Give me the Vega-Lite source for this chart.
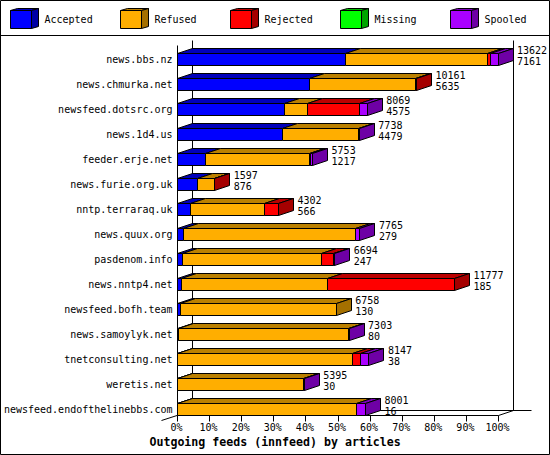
{
"$schema":"https://vega.github.io/schema/vega-lite/v6.json",
"width":321,"height":370,
"autosize":{"type":"none"},
"padding":{"left":177,"top":45,"right":52,"bottom":40},
"background":"white",
"config":{"view":{"stroke":null},"text":{"font":"DejaVu Sans Mono","fontSize":10,"color":"black"}},
"params":[{"name":"k","expr":"13622/321"}],
"datasets":{
"hosts":[
{"host":"news.bbs.nz","Accepted":7161,"Refused":6010,"Rejected":144,"Missing":0,"Spooled":307},
{"host":"news.chmurka.net","Accepted":5635,"Refused":4500,"Rejected":26,"Missing":0,"Spooled":0},
{"host":"newsfeed.dotsrc.org","Accepted":4575,"Refused":976,"Rejected":2207,"Missing":0,"Spooled":311},
{"host":"news.1d4.us","Accepted":4479,"Refused":3229,"Rejected":0,"Missing":0,"Spooled":30},
{"host":"feeder.erje.net","Accepted":1217,"Refused":4406,"Rejected":60,"Missing":0,"Spooled":70},
{"host":"news.furie.org.uk","Accepted":876,"Refused":701,"Rejected":20,"Missing":0,"Spooled":0},
{"host":"nntp.terraraq.uk","Accepted":566,"Refused":3139,"Rejected":597,"Missing":0,"Spooled":0},
{"host":"news.quux.org","Accepted":279,"Refused":7275,"Rejected":0,"Missing":0,"Spooled":211},
{"host":"pasdenom.info","Accepted":247,"Refused":5894,"Rejected":509,"Missing":0,"Spooled":44},
{"host":"news.nntp4.net","Accepted":185,"Refused":6202,"Rejected":5390,"Missing":0,"Spooled":0},
{"host":"newsfeed.bofh.team","Accepted":130,"Refused":6628,"Rejected":0,"Missing":0,"Spooled":0},
{"host":"news.samoylyk.net","Accepted":80,"Refused":7193,"Rejected":0,"Missing":0,"Spooled":30},
{"host":"tnetconsulting.net","Accepted":38,"Refused":7402,"Rejected":339,"Missing":0,"Spooled":368},
{"host":"weretis.net","Accepted":30,"Refused":5345,"Rejected":0,"Missing":0,"Spooled":20},
{"host":"newsfeed.endofthelinebbs.com","Accepted":16,"Refused":7594,"Rejected":0,"Missing":0,"Spooled":391}
],
"statuses":[{"key":"Accepted"},{"key":"Refused"},{"key":"Rejected"},{"key":"Missing"},{"key":"Spooled"}]
},
"encoding":{
"x":{"field":"xa","type":"quantitative","title":"Outgoing feeds (innfeed) by articles",
"scale":{"domain":[0,13622],"range":[0,321],"nice":false,"zero":false},
"axis":{"values":[0,1362.2,2724.4,4086.6,5448.8,6811,8173.2,9535.4,10897.6,12259.8,13622],"labelExpr":"round(datum.value/13622*100)+'%'","grid":false,"domainColor":"black","tickColor":"black","tickSize":6,"labelFont":"DejaVu Sans Mono","labelFontSize":10,"labelColor":"black","labelPadding":1,"labelOffset":-1,"labelOverlap":false,"labelFlush":false,"titleFont":"DejaVu Sans Mono","titleFontSize":11.6,"titleFontWeight":"bold","titleColor":"black","titleX":97.6,"titleY":27,"titleBaseline":"middle","titleAnchor":"middle"}},
"y":{"field":"ya","type":"quantitative",
"scale":{"domain":[-0.58,14.22],"range":[0,370],"nice":false,"zero":false},
"axis":{"title":null,"grid":false,"ticks":false,"labels":false,"domain":true,"domainColor":"black"}},
"fill":{"field":"shade","type":"nominal","legend":null,
"scale":{"domain":["Accepted","Refused","Rejected","Missing","Spooled","Accepted_t","Refused_t","Rejected_t","Missing_t","Spooled_t","Accepted_s","Refused_s","Rejected_s","Missing_s","Spooled_s"],
"range":["#0000FF","#FFAE00","#FF0000","#00FF00","#AA00FF","#0000BB","#BB8000","#BB0000","#00BB00","#7D00BB","#0000A5","#A57000","#A50000","#00A500","#6E00A5"]}}
},
"layer":[
{"data":{"values":[{}]},
 "transform":[{"calculate":"-176.5*k","as":"xa"},{"calculate":"372.5*k","as":"xb"},{"calculate":"-2.36","as":"ya"},{"calculate":"15.8","as":"yb"}],
 "mark":{"type":"rect","stroke":"black","strokeWidth":1},
 "encoding":{"x2":{"field":"xb"},"y2":{"field":"yb"},"fill":{"value":null}}},
{"data":{"values":[{"xp":-176.5,"xq":372.5,"yp":-0.96,"yq":-0.96},{"xp":15.5,"xq":15.5,"yp":-0.76,"yq":14.04},{"xp":336.5,"xq":336.5,"yp":-0.76,"yq":14.04},{"xp":15.5,"xq":354.5,"yp":14.04,"yq":14.04},{"xp":-15.5,"xq":15.5,"yp":14.44,"yq":14.04},{"xp":321.5,"xq":336.5,"yp":14.24,"yq":14.04}]},
 "transform":[{"calculate":"datum.xp*k","as":"xa"},{"calculate":"datum.xq*k","as":"xb"},{"calculate":"datum.yp","as":"ya"},{"calculate":"datum.yq","as":"yb"}],
 "mark":{"type":"rule","color":"black","strokeWidth":1},
 "encoding":{"x2":{"field":"xb"},"y2":{"field":"yb"},"fill":{"value":null}}},
{"data":{"name":"statuses"},
 "transform":[{"window":[{"op":"row_number","as":"i"}]},{"calculate":"(-166.5+110*(datum.i-1))*k","as":"lx0"},{"calculate":"datum.lx0+21*k","as":"lx1"}],
 "layer":[
  {"transform":[{"calculate":"[0,1]","as":"d"},{"flatten":["d"]},{"calculate":"datum.lx0+datum.d*7*k","as":"xa"},{"calculate":"datum.lx1+datum.d*7*k","as":"xb"},{"calculate":"-1.96-datum.d*0.08","as":"ya"},{"calculate":"datum.key+'_t'","as":"shade"}],
   "mark":{"type":"area","orient":"horizontal","stroke":"black","strokeWidth":1},
   "encoding":{"x2":{"field":"xb"},"detail":{"field":"key"}}},
  {"transform":[{"calculate":"[0,1]","as":"d"},{"flatten":["d"]},{"calculate":"datum.lx1+datum.d*7*k","as":"xa"},{"calculate":"-1.96-datum.d*0.08","as":"ya"},{"calculate":"-1.24-datum.d*0.08","as":"yb"},{"calculate":"datum.key+'_s'","as":"shade"}],
   "mark":{"type":"area","orient":"vertical","stroke":"black","strokeWidth":1},
   "encoding":{"y2":{"field":"yb"},"detail":{"field":"key"}}},
  {"transform":[{"calculate":"datum.lx0","as":"xa"},{"calculate":"datum.lx1","as":"xb"},{"calculate":"-1.96","as":"ya"},{"calculate":"-1.24","as":"yb"},{"calculate":"datum.key","as":"shade"}],
   "mark":{"type":"rect","stroke":"black","strokeWidth":1},
   "encoding":{"x2":{"field":"xb"},"y2":{"field":"yb"}}},
  {"transform":[{"calculate":"datum.lx0+34*k","as":"xa"},{"calculate":"-1.58","as":"ya"}],
   "mark":{"type":"text","align":"left","baseline":"middle"},
   "encoding":{"text":{"field":"key"},"fill":{"value":"black"}}}
 ]},
{"data":{"name":"hosts"},
 "transform":[
  {"window":[{"op":"row_number","as":"n"}]},
  {"calculate":"datum.n-1","as":"row"},
  {"calculate":"datum.Accepted+datum.Refused+datum.Rejected+datum.Missing+datum.Spooled","as":"total"},
  {"fold":["Accepted","Refused","Rejected","Missing","Spooled"],"as":["key","value"]},
  {"calculate":"indexof(['Accepted','Refused','Rejected','Missing','Spooled'],datum.key)","as":"ord"},
  {"stack":"value","groupby":["row"],"sort":[{"field":"ord","order":"ascending"}],"as":["start","end"]},
  {"calculate":"(floor(datum.start/k+0.001)+0.5)*k","as":"x0"},
  {"calculate":"(floor(datum.end/k+0.001)+0.5)*k","as":"x1"}
 ],
 "layer":[
  {"transform":[{"filter":"datum.value>0"},{"calculate":"[0,1]","as":"d"},{"flatten":["d"]},{"calculate":"datum.x0+datum.d*15*k","as":"xa"},{"calculate":"datum.x1+datum.d*15*k","as":"xb"},{"calculate":"datum.row-0.24-datum.d*0.2","as":"ya"},{"calculate":"datum.key+'_t'","as":"shade"}],
   "mark":{"type":"area","orient":"horizontal","stroke":"black","strokeWidth":1},
   "encoding":{"x2":{"field":"xb"},"detail":{"field":"row"}}},
  {"transform":[{"filter":"datum.value>0&&datum.end==datum.total"},{"calculate":"[0,1]","as":"d"},{"flatten":["d"]},{"calculate":"datum.x1+datum.d*15*k","as":"xa"},{"calculate":"datum.row-0.24-datum.d*0.2","as":"ya"},{"calculate":"datum.row+0.24-datum.d*0.2","as":"yb"},{"calculate":"datum.key+'_s'","as":"shade"}],
   "mark":{"type":"area","orient":"vertical","stroke":"black","strokeWidth":1},
   "encoding":{"y2":{"field":"yb"},"detail":{"field":"row"}}},
  {"transform":[{"filter":"datum.value>0"},{"calculate":"datum.x0","as":"xa"},{"calculate":"datum.x1","as":"xb"},{"calculate":"datum.row-0.24","as":"ya"},{"calculate":"datum.row+0.24","as":"yb"},{"calculate":"datum.key","as":"shade"}],
   "mark":{"type":"rect","stroke":"black","strokeWidth":1},
   "encoding":{"x2":{"field":"xb"},"y2":{"field":"yb"}}},
  {"transform":[{"filter":"datum.key=='Accepted'"},{"calculate":"0","as":"xa"},{"calculate":"datum.row","as":"ya"}],
   "mark":{"type":"text","align":"right","baseline":"middle","dx":-4.5},
   "encoding":{"text":{"field":"host"},"fill":{"value":"black"}}},
  {"transform":[{"filter":"datum.key=='Accepted'"},{"calculate":"datum.total+15*k","as":"xa"},{"calculate":"datum.row","as":"ya"}],
   "mark":{"type":"text","align":"left","baseline":"middle","dx":4,"dy":-9},
   "encoding":{"text":{"field":"total"},"fill":{"value":"black"}}},
  {"transform":[{"filter":"datum.key=='Accepted'"},{"calculate":"datum.total+15*k","as":"xa"},{"calculate":"datum.row","as":"ya"}],
   "mark":{"type":"text","align":"left","baseline":"middle","dx":4,"dy":2},
   "encoding":{"text":{"field":"value"},"fill":{"value":"black"}}}
 ]}
]
}
